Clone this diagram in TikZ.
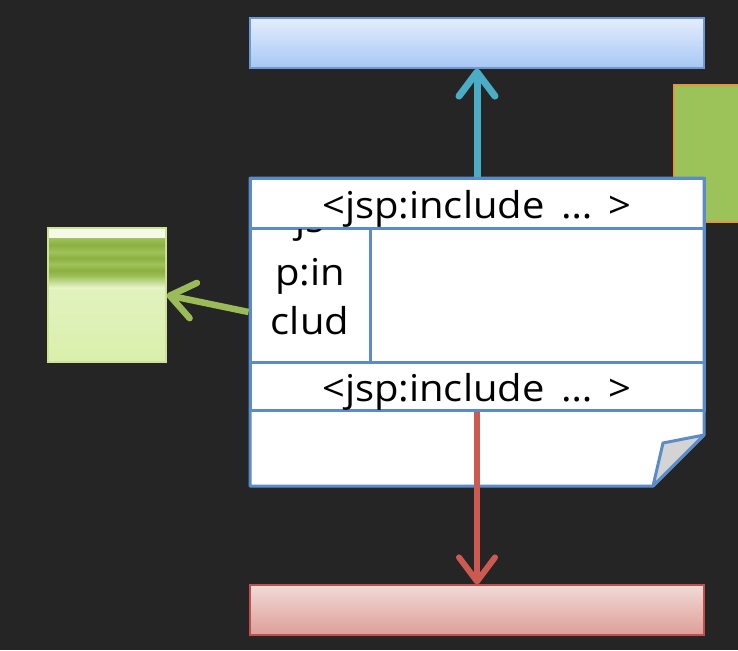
\documentclass[tikz,border=0pt]{standalone}
\usepackage{fontspec}
\setmainfont{Open Sans}[FakeStretch=1.08]
\usetikzlibrary{positioning,calc,arrows.meta}
\definecolor{bgdark}{HTML}{252525}
\definecolor{pageblue}{HTML}{5B8CC8}
\definecolor{arrowblue}{HTML}{4BACC6}
\definecolor{arrowgreen}{HTML}{9BBB59}
\definecolor{arrowred}{HTML}{CC5A50}
\definecolor{foldgray}{HTML}{D4D4D4}
\definecolor{webline}{RGB}{109,152,214}
\definecolor{webtop}{RGB}{228,237,252}
\definecolor{webbot}{RGB}{168,199,244}
\definecolor{dbline}{RGB}{192,80,77}
\definecolor{dbtop}{RGB}{241,218,215}
\definecolor{dbbot}{RGB}{222,158,152}
\definecolor{otherline}{RGB}{228,150,60}
\definecolor{otherfill}{RGB}{155,195,90}
\definecolor{libline}{RGB}{205,228,150}
\definecolor{libtop}{RGB}{232,246,205}
\definecolor{libbot}{RGB}{218,239,172}
\definecolor{libcap}{RGB}{244,250,230}
\definecolor{stripedark}{RGB}{140,176,66}
\definecolor{stripelight}{RGB}{160,194,90}
\definecolor{shadowtop}{RGB}{165,198,100}
\definecolor{shadowbot}{RGB}{232,246,205}
\tikzstyle{bar} = [minimum width=454pt, minimum height=50pt, inner sep=0pt, line width=1.2pt]
\tikzstyle{row} = [draw=pageblue, line width=3pt, inner sep=0pt, font=\fontsize{37}{48}\selectfont]
\tikzstyle{headtext} = [text height=32pt, text depth=2pt]
\tikzstyle{edge} = [line width=7pt, -{Straight Barb[length=24pt, width=36pt, round]}]

\begin{document}
\begin{tikzpicture}[x=1pt, y=-1pt]
	\path[clip] (0,0) rectangle (738,650);
	\fill[bgdark] (0,0) rectangle (738,650);
	% targets
	\node[bar, draw=webline, top color=webtop, bottom color=webbot] (web) at (477,43) {};
	\node[bar, draw=dbline, top color=dbtop, bottom color=dbbot] (db) at (477,610) {};
	\node[draw=otherline, line width=1.5pt, fill=otherfill, minimum width=92pt, minimum height=137pt, inner sep=0pt] (other) at (720,153.5) {};
	% included file
	\node[draw=libline, line width=1.2pt, top color=libtop, bottom color=libbot, minimum width=118pt, minimum height=134pt, inner sep=0pt] (lib) at (107,295) {};
	\fill[libcap] (49,229) rectangle (165,238);
	\foreach \a/\b in {238/252, 252/264, 264/277}
		\shade[top color=stripelight, bottom color=stripelight, middle color=stripedark] (49,\a) rectangle (165,\b);
	\shade[top color=shadowtop, bottom color=shadowbot] (49,277) rectangle (165,288);
	% page
	\draw[pageblue, line width=3pt, fill=white, line join=round] (250,178) -- (704,178) -- (704,435) -- (653,486) -- (250,486) -- cycle;
	\node[row, headtext, minimum width=454pt, minimum height=50pt] (head) at (477,203) {<jsp:include \,…\, >};
	\node[row, minimum width=120pt, minimum height=134pt] (side) at (310,295) {};
	\node[row, minimum width=334pt, minimum height=134pt] (body) at (537,295) {};
	\node[row, headtext, minimum width=454pt, minimum height=48pt] (head2) at (477,386) {<jsp:include \,…\, >};
	\begin{scope}
		\clip (251.5,229.5) rectangle (368.5,360.5);
		\foreach \t/\y in {js/232, p:in/285, clud/334}
			\node[font=\fontsize{37}{48}\selectfont, anchor=base, inner sep=0pt] (s\y) at (310,\y) {\t};
	\end{scope}
	\draw[pageblue, line width=3pt, fill=foldgray, line join=round] (653,486) -- (663,443) -- (704,435) -- cycle;

	\draw[edge, arrowblue]  (head.north) -- (web.south);
	\draw[edge, arrowgreen, line width=6.5pt]  ([yshift=-17pt]side.west) -- (lib.east);
	\draw[edge, arrowred, line width=6pt]  (head2.south) -- (db.north);
\end{tikzpicture}
\end{document}
